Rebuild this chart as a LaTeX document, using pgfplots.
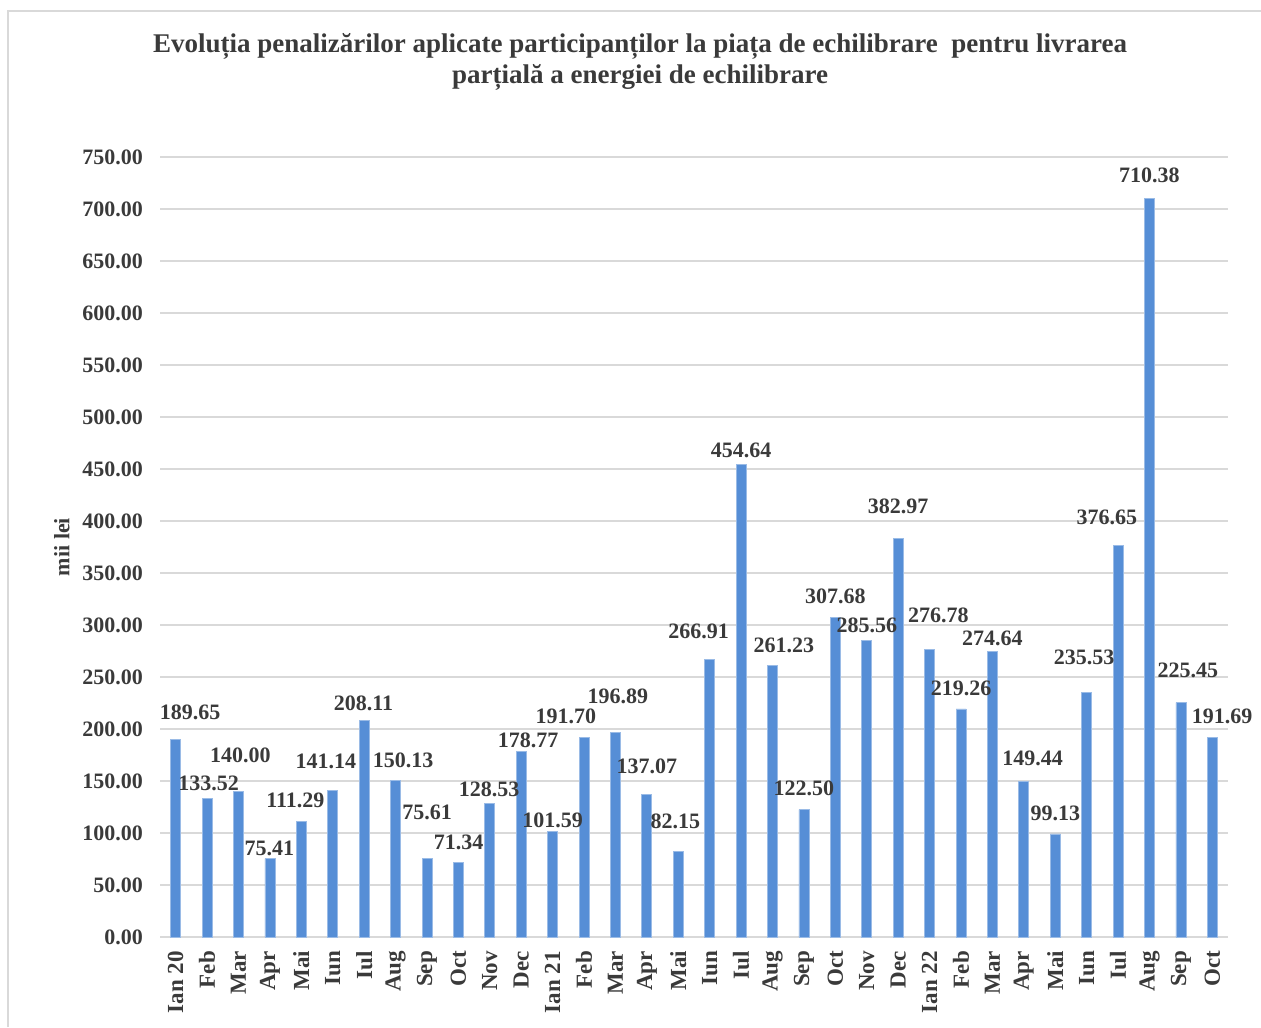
\documentclass[border=0pt]{standalone}
\usepackage{pgfplots}
\pgfplotsset{compat=1.18}
\usepackage{pgfplotstable}
\usepackage{fontspec}
\setmainfont{Liberation Serif}
\definecolor{barblue}{RGB}{86,142,214}
\definecolor{txt}{HTML}{3A3A3A}
\definecolor{gridgray}{HTML}{D9D9D9}

% idx = bar position, v = value, lx/ly = where the data label sits
\pgfplotstableread{
idx v lx ly
0 189.65 0.46 215.9
1 133.52 1.05 147.6
2 140.00 2.06 174.5
3 75.41 2.98 85.6
4 111.29 3.81 131.7
5 141.14 4.78 168.8
6 208.11 5.98 224.5
7 150.13 7.24 170.2
8 75.61 8.00 120.2
9 71.34 9.01 91.3
10 128.53 9.98 142.3
11 178.77 11.22 189.4
12 101.59 12.00 112.5
13 191.70 12.42 212.5
14 196.89 14.08 231.7
15 137.07 15.00 164.4
16 82.15 15.91 111.5
17 266.91 16.65 294.2
18 454.64 18.00 468.3
19 261.23 19.36 280.8
20 122.50 20.00 143.3
21 307.68 21.00 327.9
22 285.56 22.00 300.0
23 382.97 23.00 414.4
24 276.78 24.28 309.6
25 219.26 25.00 239.4
26 274.64 26.00 287.5
27 149.44 27.28 172.1
28 99.13 28.00 119.2
29 235.53 28.92 269.2
30 376.65 29.64 403.8
31 710.38 31.00 732.7
32 225.45 32.22 256.7
33 191.69 33.31 212.5
}\penalizari

\begin{document}
\begin{tikzpicture}
\useasboundingbox (0,0) rectangle (630.5pt,513.5pt);
\draw[gridgray, line width=0.7pt] (4pt,0) -- (4pt,508pt) -- (630.5pt,508pt);

\node[font=\fontsize{13.5}{15.5}\selectfont\bfseries, text=txt, align=center]
  at (320pt,482.5pt)
  {Evoluția penalizărilor aplicate participanților la piața de echilibrare\ \ pentru livrarea\\
   parțială a energiei de echilibrare};

\begin{axis}[
    at={(80pt,45pt)}, anchor=south west,
    scale only axis,
    width=534pt, height=390pt,
    xmin=-0.5, xmax=33.5,
    ymin=0, ymax=750,
    ytick={0,50,...,750},
    xtick={0,...,33},
    xticklabels={Ian 20,Feb,Mar,Apr,Mai,Iun,Iul,Aug,Sep,Oct,Nov,Dec,
                 Ian 21,Feb,Mar,Apr,Mai,Iun,Iul,Aug,Sep,Oct,Nov,Dec,
                 Ian 22,Feb,Mar,Apr,Mai,Iun,Iul,Aug,Sep,Oct},
    axis line style={draw=none},
    major tick length=0pt,
    ymajorgrids,
    grid style={gridgray, line width=0.75pt},
    clip=false,
    /pgf/number format/.cd, fixed, fixed zerofill, precision=2, assume math mode=true,
    /pgfplots/.cd,
    yticklabel style={font=\fontsize{11}{13}\selectfont\bfseries, text=txt, xshift=-5pt},
    xticklabel style={font=\fontsize{11.5}{13}\selectfont\bfseries, text=txt,
                      rotate=90, anchor=east, xshift=-3.5pt},
    ylabel={mii lei},
    ylabel style={font=\fontsize{11}{13}\selectfont\bfseries, text=txt,
                  at={(axis description cs:-0.0918,0.5)}, anchor=center},
]
\addplot[ybar, bar width=5pt, fill=barblue, draw=barblue!60!white, line width=0.4pt]
  table[x=idx, y=v] {\penalizari};
\addplot[draw=none, nodes near coords, point meta=explicit symbolic,
         every node near coord/.append style={anchor=center, inner sep=0pt,
           font=\fontsize{11}{13}\selectfont\bfseries, text=txt}]
  table[x=lx, y=ly, meta=v] {\penalizari};
\end{axis}
\end{tikzpicture}
\end{document}
